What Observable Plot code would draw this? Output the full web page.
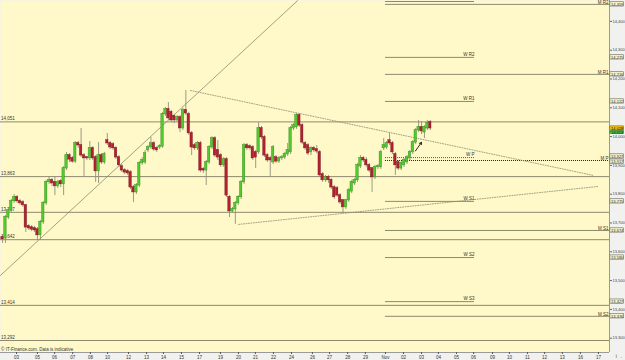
<!DOCTYPE html>
<html><head><meta charset="utf-8">
<script src="https://cdn.jsdelivr.net/npm/d3@7"></script>
<script src="https://cdn.jsdelivr.net/npm/@observablehq/plot@0.6"></script>
<style>
html,body{margin:0;padding:0;background:#f1f1ef;}
#chart svg{display:block;font-family:"Liberation Sans",Arial,sans-serif;}
</style></head>
<body><div id="chart"></div>
<script>
// ---- candle data (4-hour bars), prices ----
const open  = [13650,13646,13719,13743,13775,13789,13775,13771,13761,13688,13684,13681,13677,13657,13702,13768,13841,13848,13841,13827,13844,13834,13889,13934,13924,13913,13976,13969,13934,13927,13924,13959,13927,13879,13934,13910,13986,13976,13972,13959,13927,13896,13882,13879,13875,13823,13806,13830,13907,
13910,13952,13962,13976,13959,13962,13965,14077,14094,14084,14070,14056,14066,14028,14091,14077,14011,13969,13959,13976,13886,13882,13910,13962,13993,13952,13934,13900,13920,13789,13740,13747,13768,13789,13841,13969,13965,13962,13945,13945,14028,13997,13934,13924,13910,13927,13913,
13924,13927,13938,13945,14028,14032,14073,14038,13976,13969,13945,13959,13955,13945,13868,13848,13858,13848,13823,13820,13795,13778,13754,13778,13809,13837,13848,13896,13924,13917,13900,13889,13858,13893,13893,13959,13962,13986,13976,13938,13910,13889,13900,13910,13924,13945,13979,14021,14032,14014,14028,14049];
const high  = [13660,13726,13754,13782,13799,13795,13782,13778,13764,13695,13691,13688,13684,13709,13775,13848,13861,13854,13858,13848,13851,13896,13945,13941,13931,13983,13983,14028,13941,13931,13983,13965,13934,13979,13941,13945,14011,13983,13979,13965,13934,13903,13889,13886,13882,13830,13837,13913,13927,
13952,13969,13997,13983,13965,13972,14084,14101,14118,14091,14077,14073,14073,14098,14160,14084,14018,13976,13983,13983,13893,13917,13969,14000,14000,13986,13941,13927,13927,13795,13754,13775,13795,13848,13976,13976,13972,13969,13952,14049,14035,14004,13941,13931,13969,13934,13931,
13934,13945,13976,14035,14045,14080,14080,14045,13983,13976,13965,13965,13969,13952,13875,13865,13865,13854,13830,13827,13802,13782,13782,13820,13848,13854,13907,13934,13931,13927,13907,13893,13900,13903,13952,13993,13983,14011,13983,13945,13917,13913,13924,13934,13952,13986,14028,14056,14052,14038,14056,14056];
const low   = [13629,13629,13712,13737,13768,13768,13761,13754,13667,13674,13670,13667,13640,13640,13695,13761,13834,13827,13795,13820,13823,13795,13882,13910,13907,13907,13959,13927,13858,13917,13917,13917,13841,13837,13903,13903,13969,13955,13952,13920,13893,13875,13868,13865,13816,13771,13799,13823,13900,
13903,13945,13955,13948,13945,13955,13959,14070,14056,14049,14045,14049,14014,14021,14073,14004,13934,13952,13952,13875,13872,13830,13903,13955,13927,13917,13893,13893,13789,13719,13733,13695,13761,13782,13834,13952,13952,13917,13889,13938,13990,13927,13910,13861,13903,13907,13907,
13917,13920,13931,13938,14021,14025,14032,13972,13952,13934,13934,13945,13941,13858,13841,13841,13837,13816,13782,13789,13764,13733,13747,13771,13802,13830,13841,13889,13910,13893,13875,13806,13851,13886,13886,13952,13955,13969,13938,13865,13882,13882,13893,13903,13917,13938,13972,14014,14007,13993,14021,14021];
const close = [13643,13719,13743,13775,13789,13775,13768,13761,13684,13681,13677,13674,13657,13702,13768,13841,13848,13837,13827,13841,13834,13889,13934,13920,13913,13976,13969,13934,13924,13924,13959,13924,13879,13934,13910,13938,13976,13962,13959,13927,13900,13882,13875,13872,13823,13806,13830,13907,13917,
13941,13962,13976,13955,13952,13965,14077,14094,14063,14056,14056,14066,14028,14091,14080,14011,13962,13959,13976,13882,13882,13910,13962,13993,13934,13927,13900,13920,13795,13740,13747,13768,13789,13841,13969,13959,13959,13924,13927,14028,13997,13934,13917,13917,13962,13913,13924,
13927,13938,13952,14028,14038,14073,14038,13979,13959,13941,13959,13952,13948,13865,13848,13858,13848,13823,13789,13795,13771,13754,13778,13813,13841,13848,13900,13924,13917,13900,13882,13858,13893,13896,13945,13969,13976,13976,13945,13900,13889,13907,13917,13927,13945,13979,14021,14032,14018,14032,14045,14028];

// ---- x axis: day labels at bar-slot positions ----
const dayLabels = ["03","05","06","07","08","10","12","13","14","15","17","19","20","21","22","24","26","27","28","29","Nov","02","03","04","05","06","09","10","11","12","13","16","17"];
const daySlots  = [4.8,12.0,17.9,24.1,30.2,36.1,43.3,49.5,55.3,61.5,67.7,74.9,81.1,86.9,93.1,99.3,106.5,112.4,118.6,124.7,131.6,137.8,144.0,149.8,156.0,161.9,168.4,174.2,180.4,186.3,192.4,198.6,204.8];
const yTicks = [13300,13400,13500,13600,13700,13800,13900,14000,14100,14200,14300,14400];

// ---- horizontal support / resistance lines (full width) ----
const srValues = [14051,13861,13737,13642,13414,13292];
const srLabels = ["14,051","13,863","13,737","13,642","13,414","13,292"];

// ---- pivot levels ----
const pivNames  = ["W R3","M R2","W R2","M R1","W R1","W P","M P","W S1","M S1","W S2","W S3","M S2"];
const pivValues = [14469,14459,14275,14216,14122,13927,13917,13775,13674,13580,13427,13376];
const pivMonthly= [false,true,false,true,false,false,true,false,true,false,false,true];

// ---- current quote boxes ----
const lastPrice = 14028;
const bidPrice = 14014;

// ---- trend lines [slot, price] ----
const upTrend   = [[-0.7,13518],[101.4,14472]];
const downTrend = [[64.6,14160],[203.1,13865]];
const supTrend  = [[81.1,13695],[204.8,13827]];
const arrowPts  = [[141.9,13950],[144.0,13980]];
const pivStart = 131.6, wEnd = 162.2, xMax = 208.6;
const boxX1 = 208.9, boxX2 = 213.6, boxH = 7.5;

const bars = open.map((o,i)=>({i, o, h: high[i], l: low[i], c: close[i], up: close[i] >= o}));
const piv = pivNames.map((n,k)=>({n, v: pivValues[k], m: pivMonthly[k]}));
const sr = srValues.map((v,k)=>({v, t: srLabels[k]}));
const fmt = d3.format(",");
// box entries (W R3 box is hidden behind the top edge in the original)
const boxes = piv.filter(d=>d.n!=="W R3").map(d=>({v: d.v, off: d.n==="W P" ? 4 : d.n==="M P" ? -4 : 0}));

const lineCol = "#8c8a6e";
const chart = Plot.plot({
  width: 625, height: 360,
  marginLeft: 0, marginRight: 16, marginTop: 0, marginBottom: 8,
  x: {type: "linear", domain: [-0.7, xMax], axis: null},
  y: {type: "linear", domain: [13250.3, 14472.5], axis: null},
  style: {background: "transparent", fontSize: "5px"},
  marks: [
    Plot.frame({fill: "#fff9c9", stroke: null}),
    // full width S/R lines
    Plot.ruleY(sr, {y: "v", stroke: lineCol, strokeWidth: 1}),
    Plot.text(sr, {x: -0.5, y: "v", text: "t", textAnchor: "start", dy: -3, fontSize: 4.5, fill: "#333"}),
    // pivot lines
    Plot.ruleY(piv.filter(d=>!d.m && d.n!=="W P"), {y: "v", x1: pivStart, x2: wEnd, stroke: lineCol, strokeWidth: 1}),
    Plot.ruleY(piv.filter(d=>d.m && d.n!=="M P"), {y: "v", x1: pivStart, x2: xMax, stroke: lineCol, strokeWidth: 1}),
    Plot.ruleY(piv.filter(d=>d.n==="W P"), {y: "v", x1: pivStart, x2: wEnd, stroke: "#555", strokeWidth: 1, strokeDasharray: "1,1"}),
    Plot.ruleY(piv.filter(d=>d.n==="M P"), {y: "v", x1: pivStart, x2: xMax, stroke: "#222", strokeWidth: 1.2, strokeDasharray: "1,1"}),
    Plot.text(piv.filter(d=>!d.m && d.n!=="W R3"), {x: wEnd, y: "v", text: "n", textAnchor: "end", dy: -3, fontSize: 4.5, fill: "#333"}),
    Plot.text(piv.filter(d=>d.m), {x: xMax, y: "v", text: "n", textAnchor: "end", dx: -1, dy: -2, fontSize: 4.5, fill: "#333"}),
    // trend lines
    Plot.line(upTrend, {x: d=>d[0], y: d=>d[1], stroke: "#8c8a6e", strokeWidth: 0.8, clip: true}),
    Plot.line(downTrend, {x: d=>d[0], y: d=>d[1], stroke: "#8c8a6e", strokeWidth: 0.8, strokeDasharray: "1,1.5"}),
    Plot.line(supTrend, {x: d=>d[0], y: d=>d[1], stroke: "#8c8a6e", strokeWidth: 0.8, strokeDasharray: "1,1.5"}),
    // candles
    Plot.ruleX(bars, {x: "i", y1: "l", y2: "h", stroke: "#8f8f7a", strokeWidth: 0.9}),
    Plot.rect(bars, {x1: d=>d.i-0.42, x2: d=>d.i+0.42, y1: "o", y2: "c",
      fill: d=>d.up ? "#52c92e" : "#b3202f", stroke: d=>d.up ? "#2f8a1c" : "#7a1420", strokeWidth: 0.4, insetTop: -0.5}),
    // arrow
    Plot.arrow([arrowPts], {x1: d=>d[0][0], y1: d=>d[0][1], x2: d=>d[1][0], y2: d=>d[1][1], stroke: "#111", strokeWidth: 0.9, headLength: 4}),
    // frame edges
    Plot.ruleX([xMax], {stroke: "#9a9a9a"}),
    Plot.ruleY([13250.3], {stroke: "#9a9a9a"}),
    // right axis
    Plot.axisY(yTicks, {anchor: "right", tickSize: 2, tickPadding: 1, tickFormat: fmt, fontSize: 4, fill: "#444", stroke: "#666"}),
    // right boxes for pivot values
    Plot.rect(boxes, {x1: boxX1, x2: boxX2, y1: d=>d.v + d.off - boxH, y2: d=>d.v + d.off + boxH, fill: "#f7f1c8", stroke: "#6a6a5a", strokeWidth: 0.6}),
    Plot.text(boxes, {x: (boxX1+boxX2)/2, y: d=>d.v + d.off, text: d=>fmt(d.v), fontSize: 4, fill: "#333"}),
    // current quote
    Plot.rect([lastPrice], {x1: boxX1, x2: boxX2, y1: d=>d - boxH, y2: d=>d + boxH, fill: "#f2c21a", stroke: "#8a6a00", strokeWidth: 0.6}),
    Plot.text([lastPrice], {x: (boxX1+boxX2)/2, y: d=>d, text: d=>fmt(d), fontSize: 4, fill: "#000"}),
    Plot.rect([bidPrice], {x1: boxX1, x2: boxX2, y1: d=>d - boxH + 3, y2: d=>d + boxH - 3, fill: "#3cbf3c", stroke: "#1f7a1f", strokeWidth: 0.6}),
    Plot.text([bidPrice], {x: (boxX1+boxX2)/2, y: d=>d, text: d=>fmt(d), fontSize: 3.8, fill: "#003300"}),
    // bottom axis
    Plot.axisX(daySlots, {anchor: "bottom", tickSize: 2, tickPadding: 1, tickFormat: (d,i)=>dayLabels[i], fontSize: 4.5, fill: "#333", stroke: "#555"}),
    Plot.text(["© IT-Finance.com. Data is indicative"], {x: -0.5, y: 13250.3, text: d=>d, textAnchor: "start", dy: -2.5, fontSize: 4.5, fill: "#333"})
  ]
});
document.getElementById("chart").appendChild(chart);
</script>
</body></html>
